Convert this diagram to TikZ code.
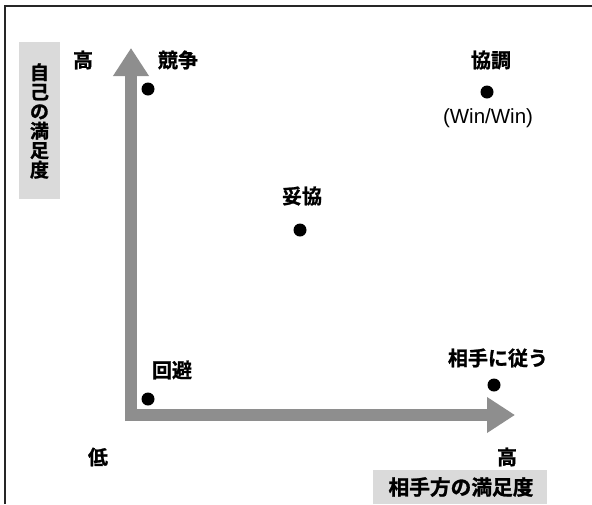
\documentclass[tikz,border=0pt]{standalone}
\usepackage{fontspec}
\setmainfont{Noto Sans CJK JP}[BoldFont={Noto Sans CJK JP Bold},BoldFeatures={FakeBold=1.2}]
\newfontfamily\latinfont{Liberation Sans}
\usetikzlibrary{arrows.meta}
\definecolor{axisgray}{HTML}{8E8E8E}
\definecolor{boxgray}{HTML}{DADADA}
\begin{document}
\begin{tikzpicture}[x=1pt,y=-1pt,
  lbl/.style={font=\bfseries\fontsize{20}{22}\selectfont, inner sep=0pt},
  dotmark/.style={circle, fill=black, minimum size=13pt, inner sep=0pt},
  axisarrow/.style={draw=axisgray, line width=12pt, -{Triangle[length=28pt,width=34pt]}}]
\useasboundingbox (0,0) rectangle (592,504);
% frame (top and left edges visible)
\draw[line width=1.2pt, black!85] (5,504) -- (5,6) -- (592,6);
% label boxes
\fill[boxgray] (19,42) rectangle (60,199);
\fill[boxgray] (373,470) rectangle (547,504);
\node[inner sep=0pt, align=center, font=\bfseries\fontsize{19}{19.5}\selectfont] (ylab) at (39.5,121) {自\\己\\の\\満\\足\\度};
\node[lbl, font=\bfseries\fontsize{20.7}{22}\selectfont] (xlab) at (461,487) {相手方の満足度};
% axes
\coordinate (ytip) at (131,48);
\coordinate (xtip) at (515,415);
\draw[axisarrow] (131,421) -- (ytip);
\draw[axisarrow] (125,415) -- (xtip);
% axis end labels
\node[lbl] (yhigh) at (83,60) {高};
\node[lbl] (low) at (98,457) {低};
\node[lbl] (xhigh) at (507,457) {高};
% points
\node[dotmark] (p1) at (148,89) {};
\node[lbl] (l1) at (178,60) {競争};
\node[dotmark] (p2) at (487,92) {};
\node[lbl] (l2) at (491,60) {協調};
\node[inner sep=0pt, font=\latinfont\fontsize{20.5}{22}\selectfont] (l2b) at (488,118) {(Win/Win)};
\node[dotmark] (p3) at (300,230) {};
\node[lbl] (l3) at (302,196) {妥協};
\node[dotmark] (p4) at (148,399) {};
\node[lbl] (l4) at (172,370) {回避};
\node[dotmark] (p5) at (494,385) {};
\node[lbl] (l5) at (498,358) {相手に従う};
\end{tikzpicture}
\end{document}
